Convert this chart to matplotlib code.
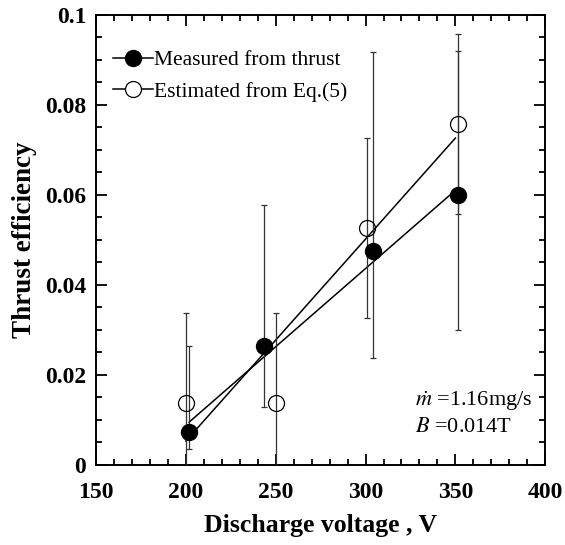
import matplotlib
matplotlib.use("Agg")
import matplotlib.pyplot as plt
from matplotlib.lines import Line2D
from matplotlib.ticker import MultipleLocator

# ---------------------------------------------------------------------------
# Data
# ---------------------------------------------------------------------------

# Measured from thrust (filled circles)
meas_v = [201.8, 243.2, 303.9, 351.3]
meas_eff = [0.0073, 0.0263, 0.0476, 0.0600]
meas_err_lo = [0.0037, 0.0134, 0.0239, 0.0300]
meas_err_hi = [0.0190, 0.0314, 0.0442, 0.0320]

# Estimated from Eq.(5) (open circles)
est_v = [200.0, 250.3, 300.8, 351.3]
est_eff = [0.0138, 0.0138, 0.0526, 0.0757]
est_err = [0.0200, 0.0200, 0.0200, 0.0200]

# Straight-line fits (end points)
meas_fit_v = [201.8, 350.0]
meas_fit_eff = [0.0095, 0.0610]
est_fit_v = [200.0, 350.0]
est_fit_eff = [0.0053, 0.0726]

plt.rcParams["font.family"] = ["Liberation Serif", "DejaVu Serif"]
plt.rcParams["mathtext.fontset"] = "stix"

fig = plt.figure(figsize=(5.65, 5.45), dpi=100)
ax = fig.add_axes([0.170, 0.147, 0.795, 0.826])

ax.plot(meas_fit_v, meas_fit_eff, color="black", lw=1.1, zorder=2)
ax.plot(est_fit_v, est_fit_eff, color="black", lw=1.1, zorder=2)

ax.errorbar(meas_v, meas_eff, yerr=[meas_err_lo, meas_err_hi], fmt="o",
            color="black", ms=11.5, mfc="black", mec="black",
            ecolor="#333333", elinewidth=0.9, capsize=2.5, capthick=0.9, zorder=3)
ax.errorbar(est_v, est_eff, yerr=est_err, fmt="o",
            color="black", ms=11.5, mfc="none", mec="black", mew=0.9,
            ecolor="#333333", elinewidth=0.9, capsize=2.5, capthick=0.9, zorder=3)

ax.set_xlim(150, 400)
ax.set_ylim(0, 0.1)
ax.xaxis.set_major_locator(MultipleLocator(50))
ax.xaxis.set_minor_locator(MultipleLocator(10))
ax.yaxis.set_major_locator(MultipleLocator(0.02))
ax.yaxis.set_minor_locator(MultipleLocator(0.005))
ax.set_yticks([0, 0.02, 0.04, 0.06, 0.08, 0.1])
ax.set_yticklabels(["0", "0.02", "0.04", "0.06", "0.08", "0.1"])

ax.tick_params(which="both", direction="in", top=True, right=True, width=1.3)
ax.tick_params(which="major", length=8, labelsize=17)
ax.tick_params(axis="x", which="major", pad=12)
ax.tick_params(axis="y", which="major", pad=7)
ax.tick_params(which="minor", length=4)
for lab in ax.get_xticklabels() + ax.get_yticklabels():
    lab.set_fontweight("bold")
for sp in ax.spines.values():
    sp.set_linewidth(1.4)

ax.set_xlabel("Discharge voltage , V", fontsize=18.5, fontweight="bold", labelpad=8)
ax.set_ylabel("Thrust efficiency", fontsize=19.5, fontweight="bold", labelpad=6)

handles = [
    Line2D([], [], color="black", lw=1.1, marker="o", ms=11.5, mfc="black"),
    Line2D([], [], color="black", lw=1.1, marker="o", ms=11.5, mfc="white", mew=0.9),
]
ax.legend(handles, ["Measured from thrust", "Estimated from Eq.(5)"],
          loc="upper left", frameon=False, fontsize=15.5, handlelength=1.85,
          handletextpad=0.05, labelspacing=0.55, borderaxespad=0.3,
          bbox_to_anchor=(0.005, 0.955))

ax.text(0.71, 0.13, r"$\dot{m}$ =1.16mg/s", transform=ax.transAxes, fontsize=16)
ax.text(0.71, 0.072, r"$B$ =0.014T", transform=ax.transAxes, fontsize=16)

fig.savefig("out.png", dpi=100)
